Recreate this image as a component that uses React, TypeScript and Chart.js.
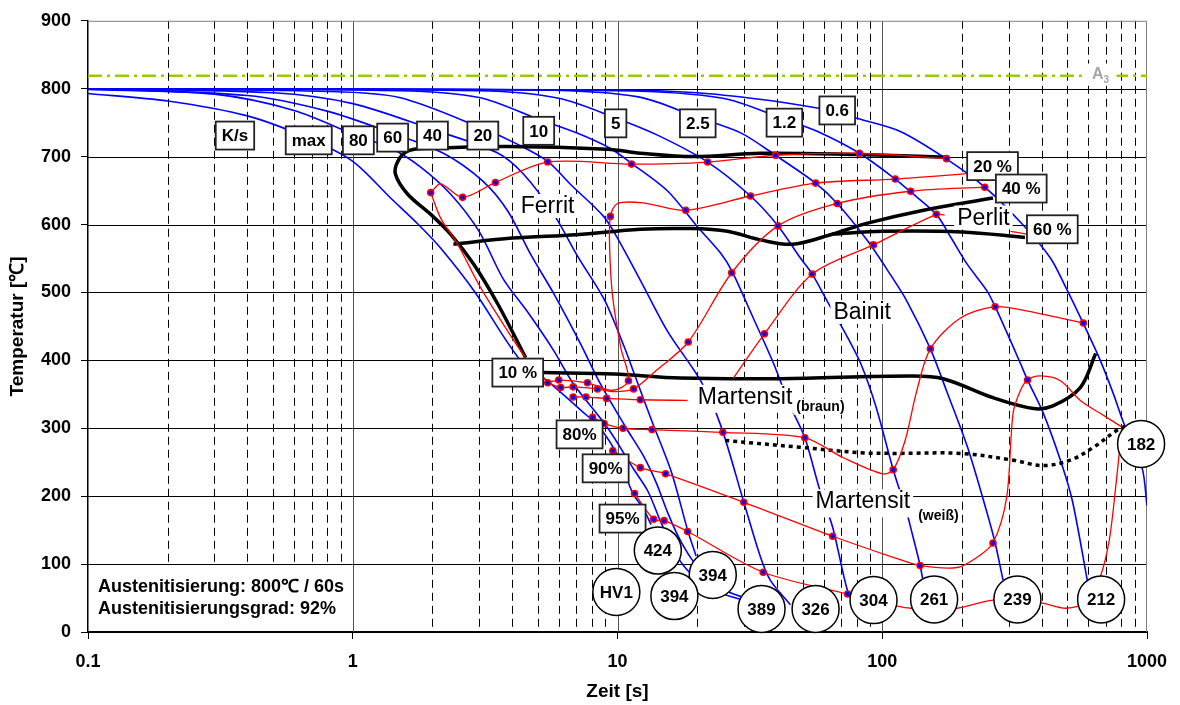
import React, { useEffect, useRef } from "react";
import { Chart, registerables } from "chart.js";

Chart.register(...registerables);

type Pt = [number, number];

const FONT = '"Liberation Sans", Arial, Helvetica, sans-serif';

// ---------- axes ----------
const timeTicks = [0.1, 1, 10, 100, 1000];
const tempMin = 0;
const tempMax = 900;
const tempStep = 100;

// ---------- cooling curves (time [s], temperature [°C]) ----------
const coolMax: Pt[] = [[0.1, 793], [0.2, 782], [0.4, 760], [0.68, 727], [1.0, 693], [1.39, 639], [1.77, 600], [2.15, 565], [2.9, 500], [4.3, 400], [5.5, 368], [7.3, 326], [8.6, 300], [10.0, 260], [11.4, 205], [12.5, 182], [13.4, 158]];
const cool80: Pt[] = [[0.1, 799], [0.3, 792], [0.6, 768], [1.05, 730], [1.4, 712], [1.8, 685], [2.34, 645], [3.0, 590], [3.7, 520], [4.6, 470], [5.75, 414], [6.8, 366], [9.2, 300], [11.5, 240], [13.0, 208], [14.5, 164], [16.5, 116], [19, 85], [23, 62], [28, 50], [34, 44]];
const cool60: Pt[] = [[0.1, 800], [0.4, 790], [0.8, 767], [1.4, 735], [2.2, 705], [3.1, 664], [3.85, 620], [4.7, 556], [5.75, 498], [7.26, 424], [8.6, 366], [10.8, 300], [12.5, 260], [14, 220], [15.5, 175], [17, 140], [19, 108], [22, 78], [26, 60], [31, 49], [36, 43]];
const cool40: Pt[] = [[0.1, 800], [0.5, 794], [1.0, 778], [2.0, 740], [3.5, 706], [4.42, 674], [5.75, 615], [7.1, 552], [8.9, 490], [10.6, 420], [11.7, 375], [13.5, 310], [16, 235], [18.4, 150], [19.8, 112]];
const cool20: Pt[] = [[0.1, 800], [0.8, 796], [1.5, 787], [3.07, 742], [4.2, 718], [5.45, 693], [6.65, 659], [8.86, 612], [10, 580], [12.5, 510], [15.5, 442], [20.6, 370], [24.5, 305], [30, 191], [34.7, 110], [37.8, 76], [45, 40]];
const cool10: Pt[] = [[0.1, 800], [1.5, 797], [3, 787], [5.04, 755], [7, 735], [9.4, 712], [11.4, 689], [15.5, 649], [20, 597], [24.5, 558], [27, 532], [32.6, 462], [38.9, 395], [44.5, 336], [51, 286], [58, 210], [65, 154], [74, 60], [79, 42]];
const cool5: Pt[] = [[0.1, 800], [3, 797], [6, 786], [9.84, 757], [14.1, 732], [21.9, 692], [31.8, 642], [40.4, 598], [49, 551], [54.4, 527], [62, 487], [73, 438], [83, 395], [95, 330], [110, 239], [124, 175], [128, 154], [139, 98], [142, 79]];
const cool2_5: Pt[] = [[0.1, 800], [5, 798], [12, 788], [20, 758], [29.2, 735], [39.5, 702], [56, 661], [67.6, 631], [88, 576], [107, 527], [124, 487], [152, 417], [175, 355], [210, 272], [249, 175], [267, 131], [286, 76]];
const cool1_2: Pt[] = [[0.1, 800], [10, 797], [25, 786], [42.7, 755], [57, 737], [82, 705], [112, 667], [128, 648], [160, 615], [181, 582], [209, 542], [249, 502], [267, 479], [294, 443], [333, 395], [354, 371], [406, 322], [471, 253], [522, 194], [595, 76]];
const cool0_6: Pt[] = [[0.1, 800], [10, 798], [20, 794], [35, 784], [54, 773], [69, 765], [81, 756], [117, 737], [174, 697], [244, 655], [339, 600], [431, 551], [494, 507], [575, 454], [666, 400], [746, 351], [818, 307], [958, 242], [1000, 186]];
const coolingCurves: Pt[][] = [coolMax, cool80, cool60, cool40, cool20, cool10, cool5, cool2_5, cool1_2, cool0_6];

// ---------- transformation lines (red) with marker indices ----------
const redFerritStart: Pt[] = [[1.97, 647], [2.15, 660], [2.6, 640], [3.46, 662], [5.45, 692], [11.3, 689], [21.9, 692], [39.5, 702], [82, 705], [175, 697]];
const redFerritStartMarks = [0, 2, 3, 4, 5, 6, 7, 8, 9];
const redFerritEdge: Pt[] = [[1.97, 647], [2.15, 609], [2.49, 571], [3.04, 507], [3.85, 443], [4.57, 400], [5.13, 380], [5.45, 367]];
const redFerritEdgeMarks = [7];
const red20: Pt[] = [[5.45, 367], [6.0, 371], [7.7, 367], [9.6, 356], [11.0, 370], [10.3, 418], [9.6, 492], [9.35, 560], [9.4, 612], [10.0, 631], [12.5, 632], [18.1, 621], [31.8, 642], [56, 661], [112, 667], [210, 675]];
const red20Marks = [1, 2, 4, 8, 11, 12, 13, 14];
const red40: Pt[] = [[5.45, 367], [6.1, 360], [6.8, 361], [8.4, 358], [9.7, 354], [11.5, 358], [14, 385], [18.5, 427], [27, 529], [40.4, 598], [67.6, 631], [128, 649], [244, 655]];
const red40Marks = [1, 2, 3, 5, 7, 8, 9, 10, 11, 12];
const redMartBraun: Pt[] = [[6.8, 346], [7.6, 346], [9.1, 344], [12.2, 342], [18.4, 341]];
const redMartBraunMarks = [0, 1, 2, 3];
const red60: Pt[] = [[27.4, 374], [35.9, 439], [54.4, 527], [92.6, 570], [160, 615], [172, 614]];
const red60Marks = [1, 2, 3, 4];
const redPerlitTail: Pt[] = [[305, 590], [350, 586]];
const redPerlitTailMarks: number[] = [];
const red80: Pt[] = [[8.05, 316], [8.9, 307], [10.5, 300], [13.5, 298], [25, 294], [51, 286], [71, 257], [100, 233], [110, 239], [122, 282], [135, 355], [152, 417], [197, 462], [267, 479], [350, 473], [575, 455]];
const red80Marks = [0, 1, 2, 3, 4, 5, 8, 11, 13, 15];
const red90: Pt[] = [[9.6, 267], [12.2, 242], [15.2, 233], [30, 191], [65, 141], [110, 110], [139, 98], [192, 95], [228, 110], [262, 131], [295, 198], [312, 322], [332, 355], [354, 371], [396, 377], [471, 370], [560, 341], [666, 322], [803, 302]];
const red90Marks = [0, 1, 2, 3, 4, 6, 9, 13];
const red95: Pt[] = [[11.6, 204], [13.7, 166], [15, 164], [18.4, 148], [35.5, 88], [74, 56], [98, 45], [114, 38], [128, 35], [192, 35], [262, 47], [396, 43], [494, 35], [600, 45], [666, 81], [720, 135], [760, 210], [803, 300]];
const red95Marks = [0, 1, 2, 3, 4, 5];
const redLines: { pts: Pt[]; marks: number[] }[] = [
  { pts: redFerritStart, marks: redFerritStartMarks },
  { pts: redFerritEdge, marks: redFerritEdgeMarks },
  { pts: red20, marks: red20Marks },
  { pts: red40, marks: red40Marks },
  { pts: redMartBraun, marks: redMartBraunMarks },
  { pts: red60, marks: red60Marks },
  { pts: redPerlitTail, marks: redPerlitTailMarks },
  { pts: red80, marks: red80Marks },
  { pts: red90, marks: red90Marks },
  { pts: red95, marks: red95Marks },
];

// ---------- phase boundaries (black) ----------
const blackFerrit: Pt[] = [[4.5, 404], [3.53, 483], [2.86, 542], [2.34, 586], [1.97, 615], [1.61, 645], [1.45, 674], [1.48, 693], [1.61, 708], [1.92, 712], [3.84, 715], [9.15, 711], [12.2, 705], [19.4, 700], [34.7, 705], [80.6, 703], [176, 699]];
const blackBainit: Pt[] = [[2.4, 571], [4, 580], [7, 585], [12.2, 593], [19, 594], [26, 590], [35, 577], [46, 571], [65, 586], [88, 602], [139, 620], [262, 639]];
const blackPerlit: Pt[] = [[65, 586], [100, 590], [200, 589], [346, 581]];
const blackMs: Pt[] = [[5.26, 382], [9.7, 380], [17.3, 374], [41.3, 373], [128, 377], [170, 373], [262, 345], [373, 329], [441, 333], [560, 360], [640, 410]];
const blackMsWhite: Pt[] = [[25.5, 282], [49, 272], [82.7, 264], [110, 263], [197, 263], [313, 253], [405, 245], [513, 253], [628, 272], [770, 297], [850, 305]];
const a3Line: Pt[] = [[0.1, 819], [1000, 819]];

// ---------- labels ----------
const rateLabels = ["K/s", "max", "80", "60", "40", "20", "10", "5", "2.5", "1.2", "0.6"];
const rateLabelAt: Pt[] = [[0.359, 731], [0.682, 724], [1.05, 724], [1.415, 728], [2.0, 731], [3.1, 731], [5.04, 738], [9.84, 749], [20.1, 749], [42.7, 750], [67.6, 768]];
const pctLabels = ["10 %", "20 %", "40 %", "60 %", "80%", "90%", "95%"];
const pctLabelAt: Pt[] = [[4.2, 382], [261, 686], [335, 653], [439, 593], [7.19, 291], [9.02, 241], [10.45, 167]];
const hardnessLabels = ["HV1", "424", "394", "394", "389", "326", "304", "261", "239", "212", "182"];
const hardnessAt: Pt[] = [[9.9, 59], [14.2, 120], [22.9, 84], [16.4, 53], [35, 34], [56, 34], [92.7, 47], [157, 48], [324, 48], [671, 48], [950, 277]];
const infoLines = ["Austenitisierung: 800\u2103 / 60s", "Austenitisierungsgrad: 92%"];

const xy = (p: Pt[]) => p.map(([x, y]) => ({ x, y }));

function textBg(ctx: CanvasRenderingContext2D, text: string, x: number, base: number, font: string, asc: number, desc: number) {
  ctx.font = font;
  const w = ctx.measureText(text).width;
  ctx.fillStyle = "#fff";
  ctx.fillRect(x - 3, base - asc, w + 6, asc + desc);
  ctx.fillStyle = "#000";
  ctx.textAlign = "left";
  ctx.textBaseline = "alphabetic";
  ctx.fillText(text, x, base);
  return w;
}

function boxLabel(ctx: CanvasRenderingContext2D, text: string, cx: number, cy: number) {
  ctx.font = `bold 17px ${FONT}`;
  const w = ctx.measureText(text).width + 12;
  const h = 28;
  ctx.fillStyle = "#fff";
  ctx.fillRect(cx - w / 2, cy - h / 2, w, h);
  ctx.strokeStyle = "#222";
  ctx.lineWidth = 1.8;
  ctx.strokeRect(cx - w / 2, cy - h / 2, w, h);
  ctx.fillStyle = "#000";
  ctx.textAlign = "center";
  ctx.textBaseline = "middle";
  ctx.fillText(text, cx, cy + 1);
}

function circleLabel(ctx: CanvasRenderingContext2D, text: string, cx: number, cy: number) {
  ctx.beginPath();
  ctx.arc(cx, cy, 23.5, 0, Math.PI * 2);
  ctx.fillStyle = "#fff";
  ctx.fill();
  ctx.strokeStyle = "#000";
  ctx.lineWidth = 1.5;
  ctx.stroke();
  ctx.font = `bold 17px ${FONT}`;
  ctx.fillStyle = "#000";
  ctx.textAlign = "center";
  ctx.textBaseline = "middle";
  ctx.fillText(text, cx, cy + 1);
}

const overlayPlugin = {
  id: "cctOverlay",
  beforeDatasetsDraw(chart: any) {
    const { ctx, chartArea: a, scales } = chart;
    const x = scales.x, y = scales.y;
    ctx.save();
    ctx.lineWidth = 1;
    for (const d of [0.1, 1, 10, 100]) {
      for (let k = 1; k <= 9; k++) {
        const px = Math.round(x.getPixelForValue(d * k)) + 0.5;
        if (px <= a.left + 1 || px >= a.right - 1) continue;
        ctx.beginPath();
        if (k === 1) {
          ctx.setLineDash([]);
          ctx.strokeStyle = "#555";
        } else {
          ctx.setLineDash([8, 5]);
          ctx.strokeStyle = "#000";
        }
        ctx.moveTo(px, a.top);
        ctx.lineTo(px, a.bottom);
        ctx.stroke();
      }
    }
    ctx.setLineDash([]);
    ctx.strokeStyle = "#000";
    for (let v = tempMin + tempStep; v < tempMax; v += tempStep) {
      const py = Math.round(y.getPixelForValue(v)) + 0.5;
      ctx.beginPath();
      ctx.moveTo(a.left, py);
      ctx.lineTo(a.right, py);
      ctx.stroke();
    }
    ctx.strokeStyle = "#808080";
    ctx.beginPath();
    ctx.moveTo(a.left, a.top + 0.5);
    ctx.lineTo(a.right - 0.5, a.top + 0.5);
    ctx.lineTo(a.right - 0.5, a.bottom);
    ctx.stroke();

    // white panel behind the austenitisation note
    const p100 = Math.round(y.getPixelForValue(100)) + 1;
    ctx.fillStyle = "#fff";
    ctx.fillRect(a.left + 1, p100, x.getPixelForValue(0.97) - a.left - 1, a.bottom - p100 - 1);
    ctx.restore();
  },
  afterDatasetsDraw(chart: any) {
    const { ctx, chartArea: a, scales } = chart;
    const px = (t: number) => scales.x.getPixelForValue(t);
    const py = (T: number) => scales.y.getPixelForValue(T);
    ctx.save();

    // A3 label
    {
      const x0 = px(620);
      const b = py(815);
      ctx.font = `bold 16px ${FONT}`;
      const wA = ctx.measureText("A").width;
      ctx.fillStyle = "#fff";
      ctx.fillRect(x0 - 5, b - 15, wA + 18, 20);
      ctx.fillStyle = "#a6a6a6";
      ctx.textAlign = "left";
      ctx.textBaseline = "alphabetic";
      ctx.fillText("A", x0, b);
      ctx.font = `bold 10px ${FONT}`;
      ctx.fillText("3", x0 + wA, b + 4);
    }

    // phase names
    textBg(ctx, "Ferrit", px(4.31), py(617), `23px ${FONT}`, 19, 5);
    textBg(ctx, "Bainit", px(65.4), py(461), `23px ${FONT}`, 19, 5);
    textBg(ctx, "Perlit", px(192), py(600), `23px ${FONT}`, 19, 5);
    {
      const x0 = px(20.1), b = py(336);
      const w = textBg(ctx, "Martensit", x0, b, `23px ${FONT}`, 19, 9);
      textBg(ctx, "(braun)", x0 + w + 4, b + 7, `bold 14px ${FONT}`, 12, 4);
    }
    {
      const x0 = px(56), b = py(182);
      const w = textBg(ctx, "Martensit", x0, b, `23px ${FONT}`, 19, 9);
      textBg(ctx, "(wei\u00df)", x0 + w + 8, b + 12, `bold 14px ${FONT}`, 12, 4);
    }

    rateLabels.forEach((s, i) => boxLabel(ctx, s, px(rateLabelAt[i][0]), py(rateLabelAt[i][1])));
    pctLabels.forEach((s, i) => boxLabel(ctx, s, px(pctLabelAt[i][0]), py(pctLabelAt[i][1])));
    hardnessLabels.forEach((s, i) => circleLabel(ctx, s, px(hardnessAt[i][0]), py(hardnessAt[i][1])));

    ctx.font = `bold 18px ${FONT}`;
    ctx.fillStyle = "#000";
    ctx.textAlign = "left";
    ctx.textBaseline = "alphabetic";
    ctx.fillText(infoLines[0], a.left + 10, a.bottom - 40);
    ctx.fillText(infoLines[1], a.left + 10, a.bottom - 18);
    ctx.restore();
  },
};

export default function App() {
  const ref = useRef<HTMLCanvasElement>(null);
  useEffect(() => {
    if (!ref.current) return;
    const datasets: any[] = [];
    datasets.push({
      data: xy(a3Line), borderColor: "#99cc00", borderWidth: 2.5, borderDash: [14, 5, 3, 5],
      pointRadius: 0, showLine: true, order: 9,
    });
    coolingCurves.forEach((c) =>
      datasets.push({
        data: xy(c), borderColor: "#0000ff", borderWidth: 1.6, pointRadius: 0,
        showLine: true, tension: 0.3, order: 8,
      })
    );
    [blackFerrit, blackBainit, blackPerlit, blackMs].forEach((c) =>
      datasets.push({
        data: xy(c), borderColor: "#000", borderWidth: 3.5, pointRadius: 0,
        showLine: true, tension: 0.35, order: 6,
      })
    );
    datasets.push({
      data: xy(blackMsWhite), borderColor: "#000", borderWidth: 3.5, borderDash: [4, 4],
      pointRadius: 0, showLine: true, tension: 0.35, order: 6,
    });
    redLines.forEach((r) =>
      datasets.push({
        data: xy(r.pts), borderColor: "#ff0000", borderWidth: 1.3, showLine: true, tension: 0.3, order: 4,
        pointRadius: (c: any) => (r.marks.includes(c.dataIndex) ? 3 : 0),
        pointBackgroundColor: "#0000ff", pointBorderColor: "#ff0000", pointBorderWidth: 1.6,
      })
    );

    const chart = new Chart(ref.current, {
      type: "scatter",
      data: { datasets },
      plugins: [overlayPlugin],
      options: {
        animation: false,
        responsive: false,
        maintainAspectRatio: false,
        layout: { padding: { left: 0, right: 33, top: 19, bottom: 0 } },
        plugins: { legend: { display: false }, tooltip: { enabled: false } },
        events: [],
        scales: {
          x: {
            type: "logarithmic",
            min: 0.1,
            max: 1000,
            afterBuildTicks: (s: any) => {
              s.ticks = timeTicks.map((v) => ({ value: v }));
            },
            afterFit: (s: any) => {
              s.height = 73;
            },
            ticks: {
              autoSkip: false,
              maxRotation: 0,
              padding: 12,
              color: "#000",
              font: { family: FONT, size: 18, weight: "bold" },
              callback: (v: any) => String(Number(v)),
            },
            grid: { drawOnChartArea: false, tickLength: 7, color: "#000", tickColor: "#000" },
            border: { color: "#000", width: 2 },
            title: {
              display: true, text: "Zeit [s]", color: "#000",
              font: { family: FONT, size: 19, weight: "bold" }, padding: { top: 0, bottom: 2 },
            },
          },
          y: {
            min: tempMin,
            max: tempMax,
            afterFit: (s: any) => {
              s.width = 88;
            },
            ticks: {
              stepSize: tempStep,
              padding: 10,
              color: "#000",
              font: { family: FONT, size: 18, weight: "bold" },
            },
            grid: { drawOnChartArea: false, tickLength: 7, color: "#000", tickColor: "#000" },
            border: { color: "#000", width: 1.5 },
            title: {
              display: true, text: "Temperatur [\u2103]", color: "#000",
              font: { family: FONT, size: 19, weight: "bold" }, padding: { top: 6, bottom: 0 },
            },
          },
        },
      } as any,
    });
    return () => chart.destroy();
  }, []);

  return (
    <div style={{ position: "absolute", left: 0, top: 0, width: 1180, height: 705, background: "#fff" }}>
      <canvas ref={ref} width={1180} height={705} style={{ display: "block", width: 1180, height: 705 }} />
    </div>
  );
}
